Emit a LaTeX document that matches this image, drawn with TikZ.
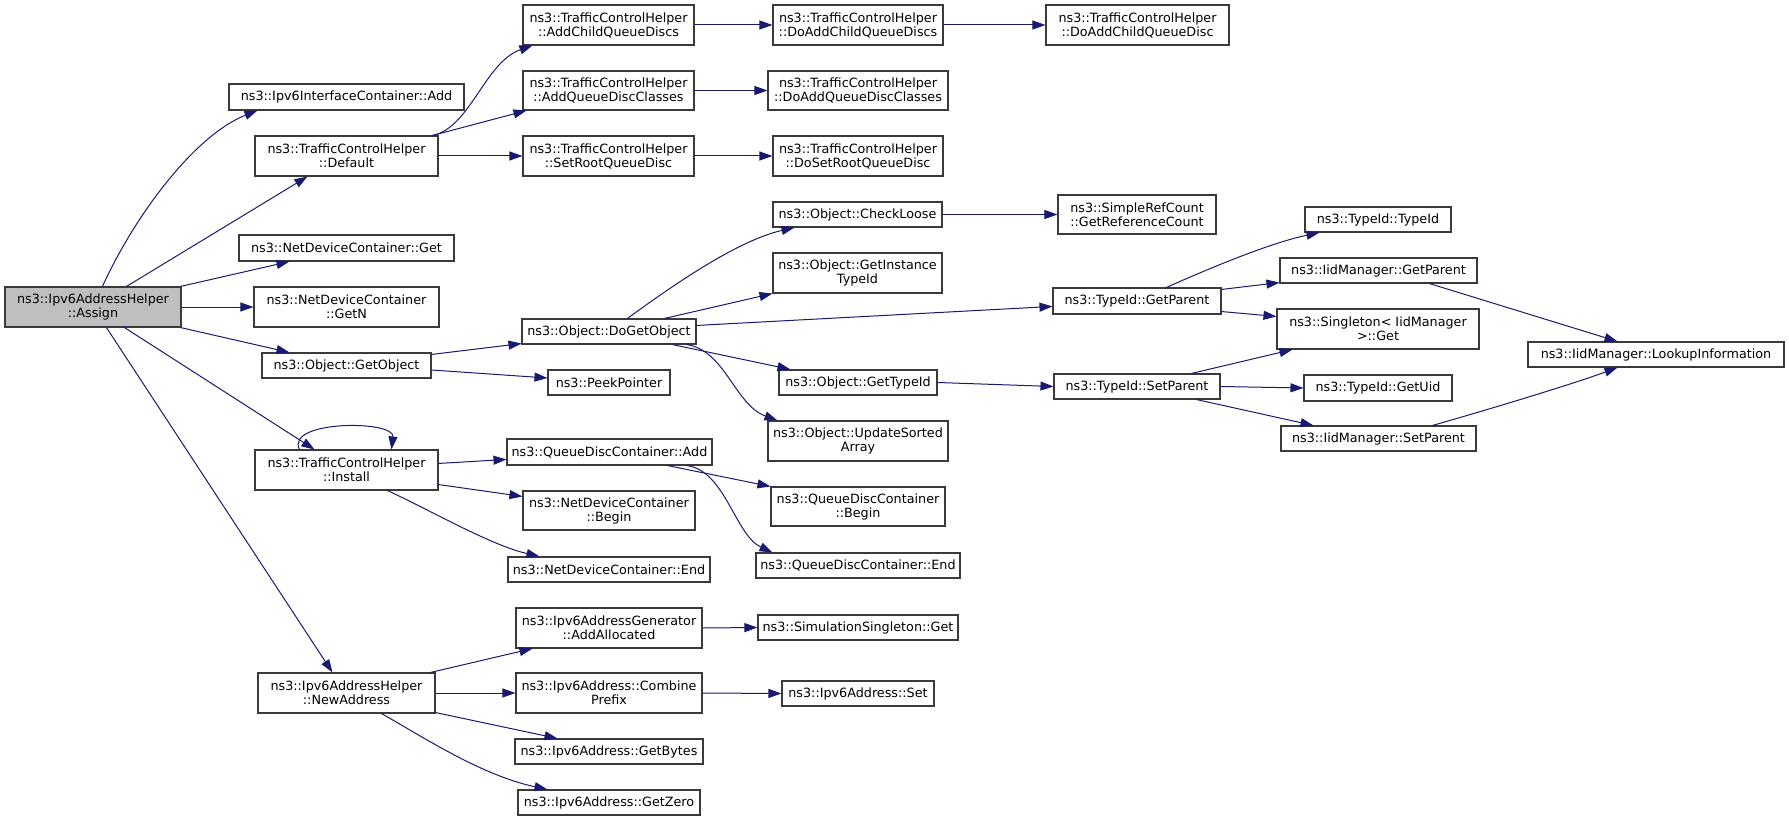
\documentclass[tikz,border=0pt]{standalone}
\usepackage{fontspec}
\setmainfont{DejaVu Sans}
\usetikzlibrary{arrows.meta}
\definecolor{edgec}{HTML}{191970}
\definecolor{boxc}{HTML}{3A3A3A}
\definecolor{selc}{HTML}{BFBFBF}
\tikzset{
  gbox/.style={draw=boxc, line width=1.1pt, fill=white, inner sep=0pt, align=center,
    font=\fontsize{12.75}{14}\selectfont, text=black},
  call/.style={draw=edgec, line width=1pt, -{Triangle[length=13pt,width=9pt]}, edgec}
}
\newcommand\mkbox[7][]{%
  \pgfmathsetmacro\mkbw{#5-#3}\pgfmathsetmacro\mkbh{#6-#4}%
  \pgfmathsetmacro\mkcx{(#3+#5)/2}\pgfmathsetmacro\mkcy{(#4+#6)/2}%
  \node[gbox,#1, minimum width=\mkbw pt, minimum height=\mkbh pt] (#2) at (\mkcx,\mkcy) {#7};}
\begin{document}
\begin{tikzpicture}[x=1pt,y=-1pt]
\useasboundingbox (0,0) rectangle (1789,821);
% nodes
\mkbox[fill=selc]{assign}{5}{287}{181}{327}{ns3::Ipv6AddressHelper\\::Assign}
\mkbox{add6}{229}{84}{464}{110}{ns3::Ipv6InterfaceContainer::Add}
\mkbox{default}{255}{136}{438}{176}{ns3::TrafficControlHelper\\::Default}
\mkbox{ndget}{239}{235}{454}{261}{ns3::NetDeviceContainer::Get}
\mkbox{getn}{254}{287}{439}{327}{ns3::NetDeviceContainer\\::GetN}
\mkbox{getobject}{262}{353}{431}{378}{ns3::Object::GetObject}
\mkbox{install}{255}{450}{438}{490}{ns3::TrafficControlHelper\\::Install}
\mkbox{newaddr}{258}{673}{435}{713}{ns3::Ipv6AddressHelper\\::NewAddress}
\mkbox{addchild}{523}{5}{694}{45}{ns3::TrafficControlHelper\\::AddChildQueueDiscs}
\mkbox{addclasses}{523}{71}{694}{110}{ns3::TrafficControlHelper\\::AddQueueDiscClasses}
\mkbox{setroot}{523}{136}{694}{176}{ns3::TrafficControlHelper\\::SetRootQueueDisc}
\mkbox{doaddchilds}{773}{5}{943}{45}{ns3::TrafficControlHelper\\::DoAddChildQueueDiscs}
\mkbox{doaddclasses}{768}{71}{948}{110}{ns3::TrafficControlHelper\\::DoAddQueueDiscClasses}
\mkbox{dosetroot}{773}{136}{943}{176}{ns3::TrafficControlHelper\\::DoSetRootQueueDisc}
\mkbox{doaddchild}{1046}{5}{1229}{45}{ns3::TrafficControlHelper\\::DoAddChildQueueDisc}
\mkbox{dogetobject}{522}{319}{696}{344}{ns3::Object::DoGetObject}
\mkbox{peek}{548}{370}{670}{395}{ns3::PeekPointer}
\mkbox{qdadd}{507}{439}{712}{465}{ns3::QueueDiscContainer::Add}
\mkbox{ndbegin}{523}{491}{695}{530}{ns3::NetDeviceContainer\\::Begin}
\mkbox{ndend}{508}{557}{710}{582}{ns3::NetDeviceContainer::End}
\mkbox{addalloc}{516}{608}{702}{648}{ns3::Ipv6AddressGenerator\\::AddAllocated}
\mkbox{combine}{516}{673}{702}{713}{ns3::Ipv6Address::Combine\\Prefix}
\mkbox{getbytes}{515}{739}{703}{764}{ns3::Ipv6Address::GetBytes}
\mkbox{getzero}{518}{790}{700}{815}{ns3::Ipv6Address::GetZero}
\mkbox{checkloose}{773}{202}{942}{227}{ns3::Object::CheckLoose}
\mkbox{getinst}{773}{253}{942}{293}{ns3::Object::GetInstance\\TypeId}
\mkbox{gettypeid}{779}{370}{937}{395}{ns3::Object::GetTypeId}
\mkbox{updsorted}{768}{421}{948}{461}{ns3::Object::UpdateSorted\\Array}
\mkbox{qdbegin}{771}{487}{945}{526}{ns3::QueueDiscContainer\\::Begin}
\mkbox{qdend}{756}{553}{960}{578}{ns3::QueueDiscContainer::End}
\mkbox{simget}{758}{615}{958}{640}{ns3::SimulationSingleton::Get}
\mkbox{vsixset}{782}{681}{934}{706}{ns3::Ipv6Address::Set}
\mkbox{refcount}{1058}{195}{1216}{234}{ns3::SimpleRefCount\\::GetReferenceCount}
\mkbox{tgetparent}{1053}{288}{1221}{314}{ns3::TypeId::GetParent}
\mkbox{tsetparent}{1054}{374}{1220}{399}{ns3::TypeId::SetParent}
\mkbox{typeid}{1305}{207}{1451}{232}{ns3::TypeId::TypeId}
\mkbox{igetparent}{1280}{258}{1477}{283}{ns3::IidManager::GetParent}
\mkbox{singleton}{1277}{309}{1479}{349}{ns3::Singleton< IidManager\\>::Get}
\mkbox{getuid}{1304}{375}{1452}{401}{ns3::TypeId::GetUid}
\mkbox{isetparent}{1281}{426}{1476}{451}{ns3::IidManager::SetParent}
\mkbox{lookup}{1528}{342}{1784}{367}{ns3::IidManager::LookupInformation}
% edges from Assign
\draw[call] ([xshift=98pt]assign.north west) .. controls (135,215) and (195,135) .. ([xshift=29pt]add6.south west);
\draw[call] ([xshift=122pt]assign.north west) -- ([xshift=53pt]default.south west);
\draw[call] ([xshift=-1pt]assign.north east) -- ([xshift=51pt]ndget.south west);
\draw[call] (assign.east) -- (getn.west);
\draw[call] ([xshift=-1pt]assign.south east) -- ([xshift=28pt]getobject.north west);
\draw[call] ([xshift=120pt]assign.south west) -- ([xshift=60pt]install.north west);
\draw[call] ([xshift=102pt]assign.south west) -- ([xshift=75pt]newaddr.north west);
% Default
\draw[call] ([xshift=-6pt]default.north east) .. controls (470,128) and (485,62) .. ([xshift=10pt]addchild.south west);
\draw[call] ([xshift=-6pt]default.north east) -- ([xshift=4pt]addclasses.south west);
\draw[call] (default.east) -- (setroot.west);
\draw[call] (addchild.east) -- (doaddchilds.west);
\draw[call] (addclasses.east) -- (doaddclasses.west);
\draw[call] (setroot.east) -- (dosetroot.west);
\draw[call] (doaddchilds.east) -- (doaddchild.west);
% GetObject
\draw[call] ([yshift=-2pt]getobject.north east) -- ([yshift=1pt]dogetobject.south west);
\draw[call] ([yshift=-4.5pt]getobject.east) -- ([yshift=4.5pt]peek.west);
% DoGetObject
\draw[call] ([xshift=106pt]dogetobject.north west) .. controls (680,280) and (740,240) .. ([xshift=22pt]checkloose.south west);
\draw[call] ([xshift=143pt]dogetobject.north west) -- (getinst.south west);
\draw[call] ([yshift=-7pt]dogetobject.north east) -- ([yshift=-19pt]tgetparent.north west);
\draw[call] ([xshift=151pt]dogetobject.south west) -- ([xshift=12pt]gettypeid.north west);
\draw[call] ([xshift=165pt]dogetobject.south west) .. controls (725,350) and (735,405) .. ([xshift=10pt]updsorted.north west);
\draw[call] (checkloose.east) -- (refcount.west);
\draw[call] (gettypeid.east) -- (tsetparent.west);
% Install
\draw[call] ([xshift=45pt]install.north west) .. controls (285,420) and (395,420) .. ([xshift=137pt]install.north west);
\draw[call] ([yshift=-14pt]install.north east) -- ([yshift=-21pt]qdadd.north west);
\draw[call] ([yshift=6pt]install.south east) -- ([yshift=-6pt]ndbegin.north west);
\draw[call] ([xshift=133pt]install.south west) .. controls (430,510) and (490,545) .. ([xshift=32pt]ndend.north west);
% QueueDiscContainer::Add
\draw[call] ([xshift=161pt]qdadd.south west) -- (qdbegin.north west);
\draw[call] ([xshift=180pt]qdadd.south west) .. controls (725,470) and (735,535) .. ([xshift=17pt]qdend.north west);
% NewAddress
\draw[call] ([xshift=-5pt]newaddr.north east) -- ([xshift=17pt]addalloc.south west);
\draw[call] (newaddr.east) -- (combine.west);
\draw[call] ([yshift=1pt]newaddr.south east) -- ([xshift=43pt]getbytes.north west);
\draw[call] ([xshift=124pt]newaddr.south west) .. controls (420,735) and (480,775) .. ([xshift=30pt]getzero.north west);
\draw[call] (addalloc.east) -- (simget.west);
\draw[call] (combine.east) -- (vsixset.west);
% TypeId::GetParent / SetParent
\draw[call] ([xshift=114pt]tgetparent.north west) .. controls (1210,268) and (1270,243) .. ([xshift=15pt]typeid.south west);
\draw[call] ([yshift=-2pt]tgetparent.north east) -- ([yshift=1pt]igetparent.south west);
\draw[call] ([yshift=3pt]tgetparent.south east) -- ([yshift=-8pt]singleton.north west);
\draw[call] ([xshift=138pt]tsetparent.north west) -- ([xshift=16pt]singleton.south west);
\draw[call] (tsetparent.east) -- (getuid.west);
\draw[call] ([xshift=143pt]tsetparent.south west) -- ([xshift=33pt]isetparent.north west);
\draw[call] ([xshift=150pt]igetparent.south west) -- ([xshift=90pt]lookup.north west);
\draw[call] ([xshift=152pt]isetparent.north west) .. controls (1480,412) and (1570,385) .. ([xshift=90pt]lookup.south west);
\end{tikzpicture}
\end{document}
